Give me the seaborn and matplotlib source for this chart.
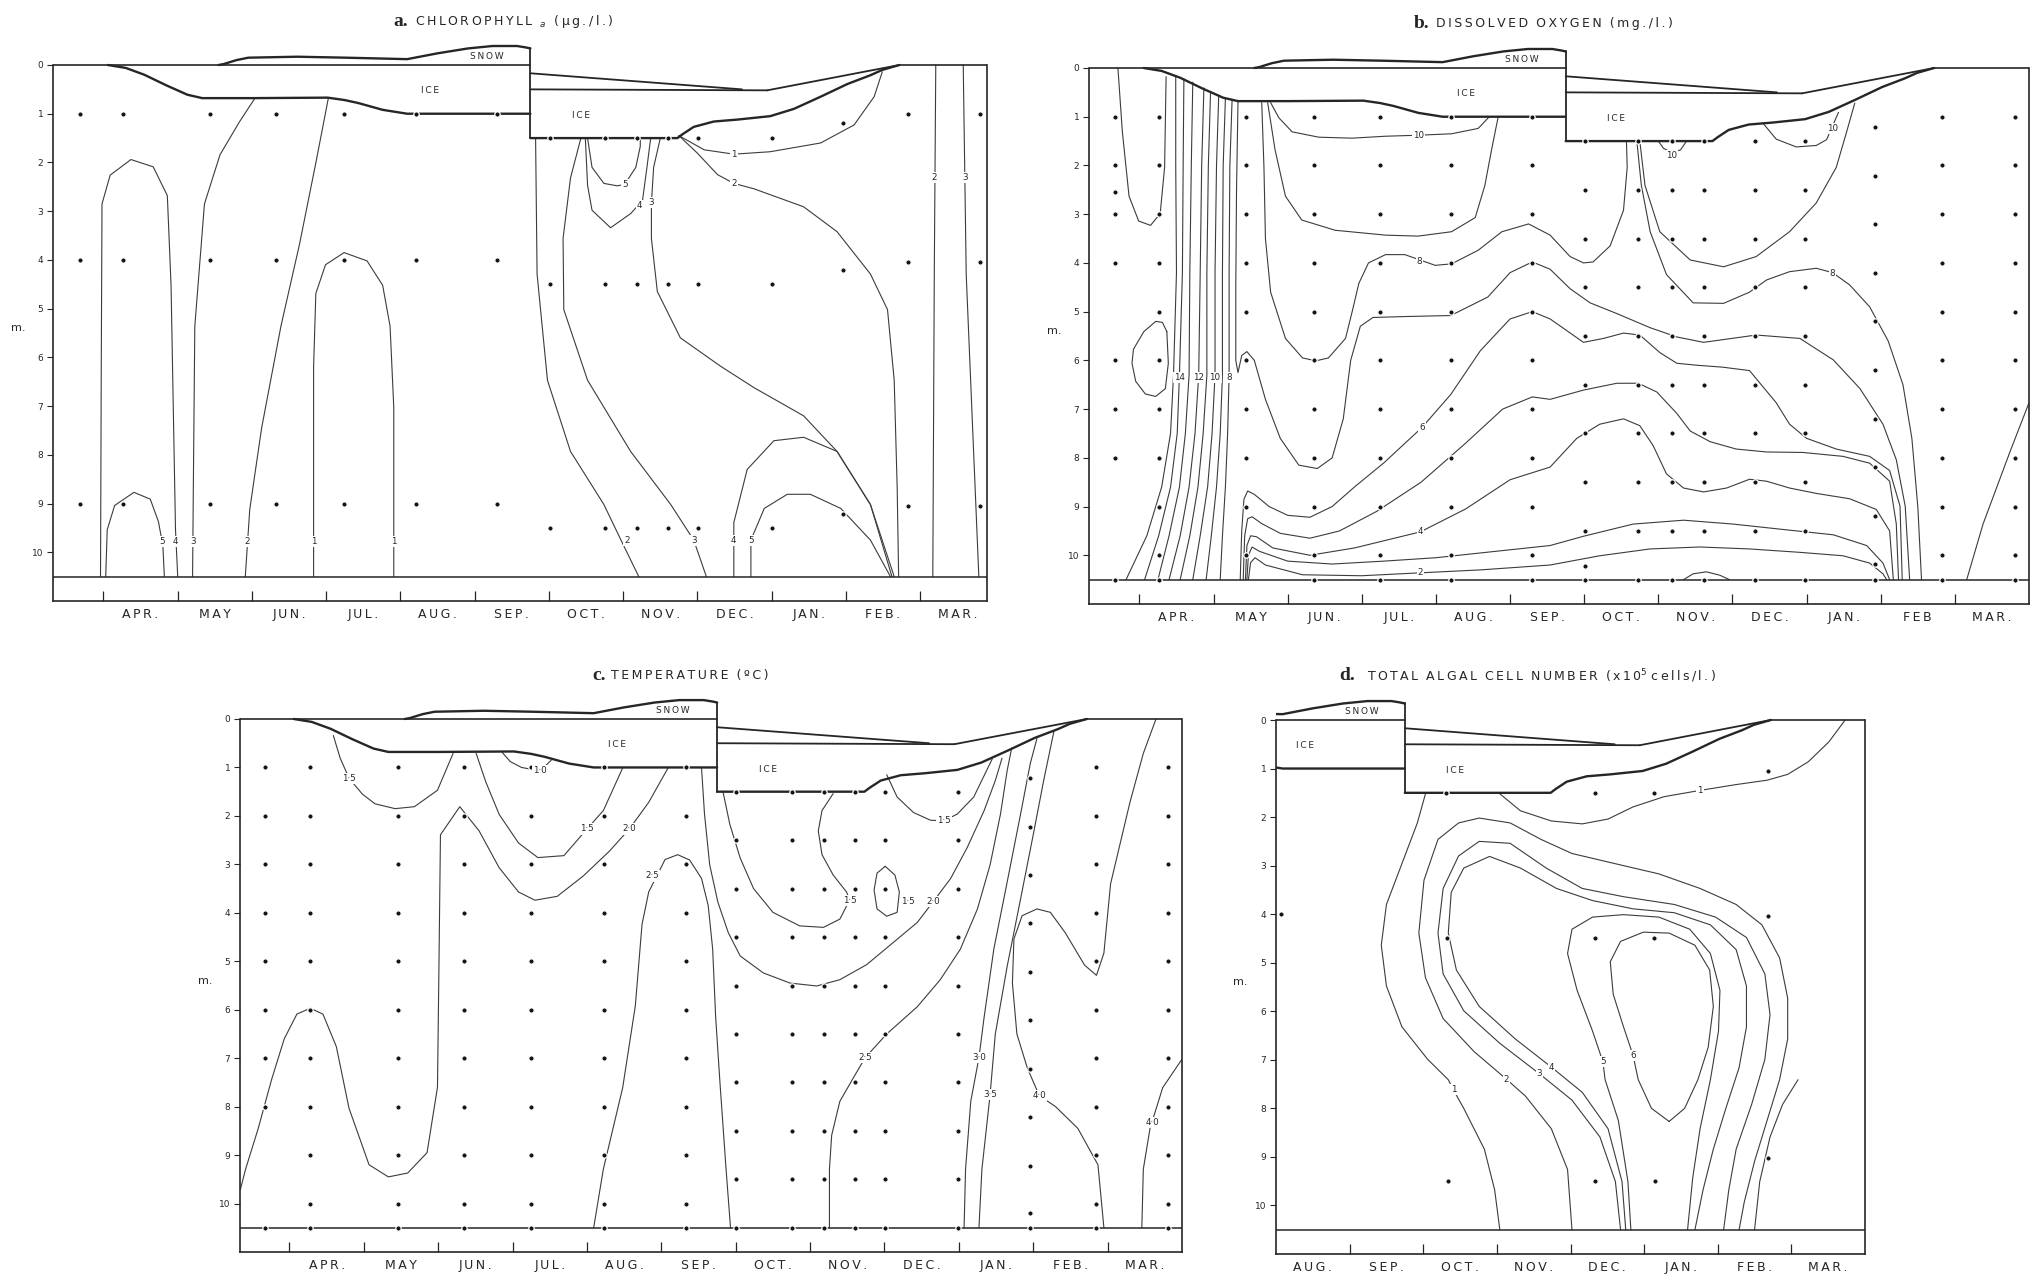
import matplotlib
matplotlib.use("Agg")
import matplotlib.pyplot as plt
import seaborn as sns

sns.set_theme(style="white")
plt.rcParams["font.family"] = ["DejaVu Sans"]
plt.rcParams["mathtext.fontset"] = "dejavusans"

INK = "#262626"
LINE = "#3c3c3c"
W, H = 2031, 1278
SP = "\u2009"  # thin space used as letter spacing

# ---------------- shared ice / snow outlines (x: months from 1 April, y: depth m) -------------
ICE1_BOTTOM_X = [0.06, 0.30, 0.55, 0.85, 1.13, 1.33, 2.0, 3.02, 3.25, 3.43, 3.76, 4.09, 5.75]
ICE1_BOTTOM_D = [0.0, 0.06, 0.20, 0.42, 0.61, 0.68, 0.68, 0.67, 0.72, 0.78, 0.92, 1.0, 1.0]
SNOW1_X = [1.55, 1.62, 1.79, 1.95, 2.61, 3.27, 4.09, 4.50, 4.91, 5.24, 5.57, 5.69, 5.75]
SNOW1_D = [0.0, -0.02, -0.10, -0.15, -0.17, -0.15, -0.12, -0.24, -0.34, -0.39, -0.39, -0.36, -0.34]
ICE_STEP_X = [5.75, 5.75]
ICE_STEP_D = [-0.34, 1.5]
ICE2_UPPER_X = [5.75, 8.60]
ICE2_UPPER_D = [0.17, 0.50]
ICE2_MID_X = [5.75, 8.94]
ICE2_MID_D = [0.50, 0.52]
ICE2_TOP_X = [8.94, 10.72]
ICE2_TOP_D = [0.52, 0.0]
ICE2_BOTTOM_X = [5.75, 7.73, 7.80, 7.95, 8.22, 8.54, 8.98, 9.30, 9.66, 10.02, 10.33, 10.49, 10.72]
ICE2_BOTTOM_D = [1.5, 1.5, 1.42, 1.27, 1.16, 1.12, 1.05, 0.90, 0.65, 0.39, 0.21, 0.10, 0.0]
ICE_LABELS = [("ICE", 4.40, 0.52), ("ICE", 6.43, 1.04), ("SNOW", 5.16, -0.18)]

MONTHS = ["APR.", "MAY", "JUN.", "JUL.", "AUG.", "SEP.", "OCT.", "NOV.", "DEC.", "JAN.", "FEB.", "MAR."]
MONTHS_B = ["APR.", "MAY", "JUN.", "JUL.", "AUG.", "SEP.", "OCT.", "NOV.", "DEC.", "JAN.", "FEB", "MAR."]
MONTHS_D = ["AUG.", "SEP.", "OCT.", "NOV.", "DEC.", "JAN.", "FEB.", "MAR."]
MONTH_TICKS = [0, 1, 2, 3, 4, 5, 6, 7, 8, 9, 10, 11]
MONTH_CENTRES = [0.5, 1.5, 2.5, 3.5, 4.5, 5.5, 6.5, 7.5, 8.5, 9.5, 10.5, 11.5]
MONTH_TICKS_D = [5, 6, 7, 8, 9, 10, 11]
MONTH_CENTRES_D = [4.5, 5.5, 6.5, 7.5, 8.5, 9.5, 10.5, 11.5]
DEPTH_TICKS = [0, 1, 2, 3, 4, 5, 6, 7, 8, 9, 10]

# ---------------- a. chlorophyll a ----------------
A_LINES = {
    "5_apr": ([0.03, 0.05, 0.15, 0.41, 0.63, 0.74, 0.80, 0.82], [10.5, 9.54, 9.04, 8.77, 8.91, 9.37, 9.87, 10.5]),
    "4_apr": ([-0.04, -0.03, -0.02, 0.09, 0.37, 0.67, 0.86, 0.91, 0.94, 0.97, 1.0],
              [10.5, 6.19, 2.85, 2.26, 1.94, 2.09, 2.68, 4.52, 7.03, 9.54, 10.5]),
    "3_apr": ([1.20, 1.21, 1.23, 1.36, 1.57, 1.83, 2.04], [10.5, 8.70, 5.36, 2.85, 1.84, 1.17, 0.68]),
    "2_jun": ([3.03, 2.86, 2.64, 2.39, 2.13, 1.97, 1.91], [0.67, 2.01, 3.68, 5.36, 7.45, 9.12, 10.5]),
    "1_jul": ([2.83, 2.83, 2.86, 2.99, 3.24, 3.55, 3.76, 3.86, 3.91, 3.91],
              [10.5, 6.19, 4.69, 4.10, 3.85, 4.02, 4.52, 5.36, 7.03, 10.5]),
    "2_oct": ([5.82, 5.84, 5.98, 6.29, 6.74, 6.97, 7.21], [1.5, 4.29, 6.47, 7.93, 9.02, 9.75, 10.5]),
    "3_oct": ([6.43, 6.29, 6.19, 6.20, 6.52, 7.10, 7.64, 7.95, 8.12],
              [1.5, 2.32, 3.56, 5.02, 6.47, 7.93, 9.02, 9.75, 10.5]),
    "4_oct": ([6.49, 6.52, 6.58, 6.83, 7.10, 7.26, 7.32, 7.37], [1.5, 2.47, 2.98, 3.34, 3.05, 2.78, 2.10, 1.5]),
    "5_oct": ([6.52, 6.58, 6.74, 6.92, 7.02, 7.17, 7.23, 7.23], [1.5, 2.10, 2.43, 2.48, 2.45, 2.10, 1.67, 1.5]),
    "3_nov": ([7.50, 7.41, 7.38, 7.38, 7.46, 7.77, 8.31, 8.76, 9.43, 9.88, 10.33, 10.65],
              [1.5, 2.10, 2.83, 3.56, 4.65, 5.60, 6.18, 6.62, 7.20, 7.93, 9.02, 10.5]),
    "2_nov": ([7.75, 8.00, 8.27, 8.49, 8.76, 9.43, 9.88, 10.33, 10.56, 10.65, 10.69, 10.71],
              [1.45, 1.81, 2.25, 2.43, 2.54, 2.91, 3.42, 4.29, 5.02, 6.47, 8.66, 10.5]),
    "1_nov": ([7.75, 8.09, 8.49, 8.98, 9.66, 10.11, 10.38, 10.49], [1.45, 1.74, 1.83, 1.78, 1.60, 1.23, 0.65, 0.14]),
    "4_jan": ([8.49, 8.49, 8.67, 9.03, 9.43, 9.88, 10.33, 10.62], [10.5, 9.39, 8.30, 7.71, 7.64, 7.93, 9.02, 10.5]),
    "5_jan": ([8.72, 8.72, 8.90, 9.21, 9.52, 9.93, 10.33, 10.60], [10.5, 9.75, 9.10, 8.81, 8.81, 9.10, 9.75, 10.5]),
    "2_mar": ([11.21, 11.19, 11.17], [0.0, 4.3, 10.5]),
    "3_mar": ([11.58, 11.62, 11.79], [0.0, 4.3, 10.5]),
}
A_LABELS = [("5", 0.79, 9.77), ("4", 0.97, 9.77), ("3", 1.21, 9.77), ("2", 1.94, 9.77), ("1", 2.83, 9.77),
            ("1", 3.91, 9.77), ("2", 7.05, 9.75), ("3", 7.95, 9.75), ("4", 8.49, 9.75), ("5", 8.72, 9.75),
            ("5", 7.02, 2.45), ("4", 7.22, 2.88), ("3", 7.38, 2.83), ("2", 8.49, 2.43), ("1", 8.49, 1.83),
            ("2", 11.19, 2.3), ("3", 11.60, 2.3)]
A_DOT_COLS = [-0.32, 0.26, 1.44, 2.33, 3.24, 4.21, 5.30, 6.01, 6.75, 7.18, 7.61, 8.01, 9.0, 9.96, 10.84, 11.80]
A_DOT_DEPTHS = [[1, 4, 9]] * 7 + [[1.5, 4.5, 9.5]] * 6 + [[1.19, 4.2, 9.22], [1, 4.05, 9.05], [1, 4.05, 9.05]]

# ---------------- b. dissolved oxygen ----------------
B_LINES = {
    "u_left": ([-0.29, -0.23, -0.14, -0.01, 0.15, 0.28, 0.34, 0.36], [0.0, 1.31, 2.63, 3.14, 3.23, 2.99, 2.04, 0.18]),
    "oval": ([0.37, 0.31, 0.22, 0.06, -0.08, -0.10, -0.05, 0.08, 0.22, 0.35, 0.39, 0.37],
             [5.41, 5.22, 5.20, 5.41, 5.77, 6.06, 6.43, 6.69, 6.74, 6.58, 6.06, 5.41]),
    "10_jun": ([1.77, 1.88, 2.06, 2.42, 2.87, 3.32, 3.76, 4.21, 4.57, 4.72],
               [0.71, 1.02, 1.31, 1.42, 1.44, 1.40, 1.38, 1.35, 1.24, 1.0]),
    "9_jun": ([1.73, 1.83, 1.97, 2.19, 2.64, 3.32, 3.76, 4.21, 4.53, 4.66, 4.75, 4.84],
              [0.71, 1.68, 2.63, 3.12, 3.33, 3.43, 3.45, 3.36, 3.07, 2.41, 1.68, 1.0]),
    "8_jun": ([1.65, 1.68, 1.70, 1.77, 1.97, 2.20, 2.38, 2.55, 2.78, 2.87, 2.96, 3.09, 3.32, 3.58, 3.99, 4.21,
               4.57, 4.89, 5.25, 5.54, 5.81, 5.99, 6.12, 6.35, 6.53, 6.58, 6.57],
              [0.71, 2.04, 3.5, 4.6, 5.55, 5.95, 6.01, 5.95, 5.55, 5.0, 4.42, 4.0, 3.83, 3.83, 4.05, 4.02,
               3.74, 3.36, 3.20, 3.43, 3.87, 4.0, 3.98, 3.65, 2.92, 2.04, 1.51]),
    "7": ([1.33, 1.31, 1.30, 1.30, 1.33, 1.38, 1.45, 1.55, 1.70, 1.90, 2.15, 2.40, 2.60, 2.75, 2.85, 2.98,
           3.15, 3.6, 4.2, 4.7, 5.0, 5.3, 5.54, 5.81, 6.08, 6.44, 6.89, 7.25, 7.61, 8.32, 8.91, 9.36, 9.72,
           10.03, 10.21, 10.33, 10.39],
          [0.67, 2.5, 4.5, 6.0, 6.25, 5.9, 5.82, 6.0, 6.8, 7.6, 8.15, 8.22, 8.0, 7.2, 6.0, 5.3, 5.12, 5.1, 5.08,
           4.7, 4.2, 3.98, 4.13, 4.53, 4.82, 5.04, 5.33, 5.52, 5.63, 5.48, 5.55, 5.99, 6.58, 7.31, 8.04, 8.99,
           10.5]),
    "6": ([1.36, 1.38, 1.41, 1.46, 1.55, 1.75, 2.0, 2.3, 2.6, 2.9, 3.3, 3.81, 4.2, 4.6, 5.0, 5.3, 5.54, 5.99,
           6.26, 6.53, 6.75, 7.02, 7.25, 7.52, 7.87, 8.23, 8.59, 8.77, 9.0, 9.40, 9.85, 10.12, 10.26, 10.29],
          [10.5, 9.5, 8.85, 8.68, 8.75, 9.0, 9.18, 9.22, 9.0, 8.6, 8.1, 7.38, 6.7, 5.8, 5.15, 5.0, 5.15, 5.63,
           5.55, 5.44, 5.48, 5.84, 6.06, 6.10, 6.14, 6.21, 6.87, 7.31, 7.60, 7.82, 7.97, 8.26, 8.99, 10.5]),
    "5": ([1.40, 1.42, 1.46, 1.52, 1.65, 1.9, 2.3, 2.7, 3.2, 3.8, 4.4, 4.9, 5.3, 5.54, 5.99, 6.44, 6.73, 6.98,
           7.25, 7.43, 7.70, 8.05, 8.46, 8.95, 9.49, 9.85, 10.12, 10.21, 10.24],
          [10.5, 9.6, 9.25, 9.21, 9.35, 9.55, 9.65, 9.5, 9.1, 8.5, 7.7, 7.0, 6.75, 6.80, 6.61, 6.47, 6.47, 6.65,
           7.09, 7.45, 7.67, 7.82, 7.88, 7.89, 7.97, 8.11, 8.48, 9.36, 10.5]),
    "4": ([1.43, 1.45, 1.50, 1.58, 1.8, 2.3, 2.9, 3.79, 4.4, 5.0, 5.54, 5.90, 6.21, 6.53, 6.75, 6.93, 7.11,
           7.34, 7.61, 7.92, 8.23, 8.46, 8.77, 9.13, 9.58, 9.94, 10.12, 10.17],
          [10.5, 9.8, 9.6, 9.62, 9.85, 10.0, 9.85, 9.52, 9.05, 8.45, 8.19, 7.60, 7.31, 7.20, 7.34, 7.75, 8.33,
           8.62, 8.70, 8.62, 8.44, 8.48, 8.62, 8.73, 8.84, 9.06, 9.50, 10.5]),
    "3": ([1.45, 1.47, 1.52, 1.62, 2.0, 2.6, 3.3, 4.0, 4.8, 5.54, 5.99, 6.66, 7.34, 8.01, 8.68, 9.36, 9.81,
           10.03, 10.12],
          [10.5, 10.0, 9.83, 9.92, 10.12, 10.18, 10.12, 10.05, 9.92, 9.80, 9.61, 9.36, 9.28, 9.36, 9.47, 9.58,
           9.80, 10.16, 10.5]),
    "2": ([1.47, 1.50, 1.56, 1.7, 2.2, 3.0, 3.79, 4.6, 5.54, 6.21, 6.89, 7.56, 8.23, 8.91, 9.49, 9.85, 10.03,
           10.08],
          [10.5, 10.15, 10.05, 10.2, 10.4, 10.42, 10.36, 10.3, 10.2, 10.01, 9.87, 9.83, 9.87, 9.94, 10.01, 10.16,
           10.38, 10.5]),
    "8_oct": ([6.71, 6.77, 6.89, 7.11, 7.47, 7.88, 8.23, 8.46, 8.77, 9.13, 9.35, 9.58, 9.85, 10.1, 10.3, 10.42,
               10.5, 10.55],
              [1.5, 2.4, 3.36, 4.24, 4.82, 4.83, 4.6, 4.35, 4.18, 4.11, 4.2, 4.45, 4.9, 5.6, 6.5, 7.6, 9.0, 10.5]),
    "9_oct": ([6.75, 6.82, 7.02, 7.43, 7.88, 8.32, 8.77, 9.13, 9.40, 9.54, 9.65],
              [1.5, 2.41, 3.36, 3.94, 4.08, 3.87, 3.36, 2.77, 2.04, 1.31, 0.72]),
    "10_oct": ([7.0, 7.07, 7.18, 7.30, 7.38], [1.5, 1.65, 1.73, 1.68, 1.5]),
    "10_dec": ([8.41, 8.59, 8.86, 9.13, 9.27, 9.43], [1.13, 1.46, 1.62, 1.59, 1.47, 0.91]),
    "mar": ([11.16, 11.38, 11.74, 12.0], [10.5, 9.36, 7.89, 6.87]),
    "nov_bed": ([7.34, 7.47, 7.65, 7.83, 7.96], [10.5, 10.38, 10.34, 10.41, 10.5]),
}
B_BUNDLE_TOP_X = [0.49, 0.60, 0.72, 0.87, 0.96, 1.07, 1.16, 1.25]
B_BUNDLE_TOP_D = [0.17, 0.22, 0.29, 0.41, 0.48, 0.56, 0.62, 0.66]
B_BUNDLE_DEPTHS = [2.0, 4.2, 6.3, 7.5, 8.6, 9.6, 10.5]
B_BUNDLE_X = [
    [0.49, 0.50, 0.46, 0.42, 0.30, 0.10, -0.18],
    [0.59, 0.58, 0.54, 0.51, 0.42, 0.26, 0.07],
    [0.70, 0.68, 0.67, 0.62, 0.54, 0.40, 0.25],
    [0.84, 0.82, 0.80, 0.75, 0.67, 0.55, 0.40],
    [0.93, 0.91, 0.91, 0.86, 0.79, 0.68, 0.55],
    [1.04, 1.02, 1.02, 0.98, 0.92, 0.82, 0.72],
    [1.13, 1.12, 1.12, 1.09, 1.04, 0.97, 0.90],
    [1.22, 1.21, 1.21, 1.19, 1.16, 1.12, 1.09],
]
B_LABELS = [("14", 0.54, 6.35), ("12", 0.80, 6.35), ("10", 1.02, 6.35), ("8", 1.21, 6.35),
            ("10", 3.76, 1.38), ("8", 3.78, 3.98), ("6", 3.81, 7.38), ("4", 3.79, 9.52), ("2", 3.79, 10.36),
            ("10", 7.18, 1.80), ("10", 9.35, 1.25), ("8", 9.35, 4.22)]
B_FIRST = [1, 2, 3, 4, 5, 6, 7, 8, 9, 10, 10.5]
B_SECOND = [1.5, 2.5, 3.5, 4.5, 5.5, 6.5, 7.5, 8.5, 9.5, 10.5]
B_DOT_COLS = [-0.33, 0.27, 1.44, 2.35, 3.25, 4.20, 5.30, 6.01, 6.73, 7.18, 7.61, 8.30, 8.98, 9.92, 10.83, 11.81]
B_DOT_DEPTHS = ([[1, 2, 2.55, 3, 4, 6, 7, 8, 10.5], B_FIRST, [1, 2, 3, 4, 5, 6, 7, 8, 9, 10]] + [B_FIRST] * 4
                + [[1.5, 2.5, 3.5, 4.5, 5.5, 6.5, 7.5, 8.5, 9.5, 10.23, 10.5]] + [B_SECOND] * 5
                + [[1.22, 2.21, 3.20, 4.20, 5.20, 6.20, 7.21, 8.19, 9.20, 10.18, 10.5], B_FIRST, B_FIRST])

# ---------------- c. temperature ----------------
C_LINES = {
    "15_apr": ([0.59, 0.68, 0.80, 0.98, 1.15, 1.42, 1.68, 1.99, 2.20], [0.34, 0.80, 1.22, 1.55, 1.75, 1.85, 1.81, 1.47, 0.71]),
    "10_jul": ([2.86, 2.97, 3.12, 3.37, 3.52], [0.69, 0.88, 1.0, 1.07, 0.85]),
    "15_jul": ([2.51, 2.64, 2.82, 3.08, 3.34, 3.69, 4.0, 4.22, 4.48], [0.71, 1.30, 1.97, 2.56, 2.86, 2.82, 2.27, 1.89, 1.01]),
    "20_apr": ([-0.66, -0.59, -0.42, -0.24, -0.07, 0.10, 0.28, 0.45, 0.63, 0.80, 1.07, 1.33, 1.59, 1.85, 1.99,
                2.01, 2.03, 2.29, 2.55, 2.82, 3.08, 3.30, 3.60, 3.95, 4.30, 4.57, 4.83, 5.09],
               [9.71, 9.29, 8.45, 7.44, 6.6, 6.09, 5.97, 6.09, 6.76, 8.03, 9.2, 9.45, 9.37, 8.95, 7.6, 5.08, 2.39,
                1.81, 2.31, 3.07, 3.57, 3.74, 3.66, 3.24, 2.73, 2.27, 1.72, 1.01]),
    "25_aug": ([4.09, 4.22, 4.48, 4.65, 4.74, 4.83, 5.05, 5.22, 5.38, 5.54, 5.63, 5.69, 5.73, 5.79, 5.87, 5.93],
               [10.5, 9.29, 7.61, 5.92, 4.24, 3.57, 2.90, 2.80, 2.91, 3.29, 3.85, 4.75, 6.15, 7.55, 9.29, 10.5]),
    "20_sep": ([5.54, 5.58, 5.65, 5.76, 5.90, 6.06, 6.37, 6.73, 7.09, 7.40, 7.76, 8.12, 8.44, 8.66, 8.89, 9.11,
                9.34, 9.49, 9.58],
               [1.0, 1.96, 3.01, 3.78, 4.41, 4.89, 5.24, 5.45, 5.51, 5.38, 5.07, 4.61, 4.20, 3.76, 3.29, 2.66,
                1.89, 1.27, 0.81]),
    "15_oct": ([5.83, 5.92, 6.06, 6.24, 6.50, 6.86, 7.18, 7.40, 7.53, 7.49, 7.31, 7.16, 7.11, 7.16, 7.31],
               [1.51, 2.17, 2.87, 3.50, 3.99, 4.27, 4.30, 4.13, 3.74, 3.57, 3.22, 2.80, 2.31, 1.89, 1.54]),
    "15_oval": ([8.01, 7.90, 7.86, 7.90, 8.03, 8.17, 8.20, 8.14, 8.01], [3.04, 3.18, 3.53, 3.92, 4.07, 3.99, 3.57, 3.22, 3.04]),
    "15_dec": ([8.03, 8.17, 8.39, 8.62, 8.80, 8.98, 9.20, 9.45], [1.15, 1.61, 1.93, 2.09, 2.10, 1.96, 1.61, 0.82]),
    "25_nov": ([7.26, 7.26, 7.29, 7.40, 7.58, 7.74, 8.03, 8.44, 8.75, 9.02, 9.25, 9.42, 9.56, 9.65, 9.71],
               [10.5, 9.29, 8.59, 7.89, 7.41, 6.99, 6.50, 5.94, 5.38, 4.75, 3.92, 3.01, 1.96, 1.06, 0.60]),
    "30_jan": ([9.07, 9.09, 9.16, 9.27, 9.34, 9.47, 9.65, 9.83, 9.96, 10.05], [10.5, 9.29, 7.89, 6.99, 6.15, 4.75, 3.36, 1.96, 0.92, 0.40]),
    "35_jan": ([9.27, 9.31, 9.42, 9.49, 9.65, 9.83, 10.01, 10.14, 10.28], [10.5, 9.29, 7.75, 6.50, 5.10, 3.71, 2.31, 1.27, 0.24]),
    "40_feb": ([10.95, 10.87, 10.60, 10.30, 10.08, 9.92, 9.78, 9.72, 9.74, 9.85, 10.05, 10.23, 10.43, 10.69,
                10.85, 10.95, 11.04, 11.30, 11.48, 11.65],
               [10.5, 9.20, 8.45, 8.0, 7.77, 7.20, 6.50, 5.45, 4.54, 4.06, 3.92, 3.99, 4.41, 5.08, 5.29, 4.83,
                3.40, 1.72, 0.71, 0.0]),
    "40_mar": ([11.46, 11.48, 11.57, 11.74, 12.0], [10.5, 9.29, 8.45, 7.61, 7.02]),
}
C_LABELS = [("1·5", 0.80, 1.22), ("1·0", 3.37, 1.07), ("1·5", 4.0, 2.27), ("2·0", 4.57, 2.27), ("2·5", 4.88, 3.24),
            ("1·5", 7.53, 3.74), ("1·5", 8.32, 3.76), ("2·0", 8.66, 3.76), ("1·5", 8.80, 2.10), ("2·5", 7.74, 6.99),
            ("3·0", 9.27, 6.99), ("3·5", 9.42, 7.75), ("4·0", 10.08, 7.77), ("4·0", 11.60, 8.32)]
C_FIRST = [1, 2, 3, 4, 5, 6, 7, 8, 9, 10, 10.5]
C_SECOND = [1.5, 2.5, 3.5, 4.5, 5.5, 6.5, 7.5, 8.5, 9.5, 10.5]
C_DOT_COLS = [-0.33, 0.28, 1.46, 2.35, 3.25, 4.23, 5.33, 6.01, 6.75, 7.19, 7.61, 8.01, 8.99, 9.95, 10.85, 11.81]
C_DOT_DEPTHS = ([[1, 2, 3, 4, 5, 6, 7, 8, 10.5]] + [C_FIRST] * 6 + [C_SECOND] * 6
                + [[1.22, 2.22, 3.22, 4.2, 5.22, 6.22, 7.22, 8.22, 9.22, 10.2, 10.5], C_FIRST, C_FIRST])

# ---------------- d. total algal cell number ----------------
D_LINES = {
    "1_oct": ([6.03, 5.92, 5.71, 5.50, 5.43, 5.50, 5.71, 6.06, 6.34, 6.41, 6.55, 6.83, 6.97, 7.04],
              [1.52, 2.12, 2.96, 3.80, 4.64, 5.48, 6.32, 6.99, 7.41, 7.62, 8.0, 8.84, 9.68, 10.5]),
    "1_top": ([11.73, 11.51, 11.23, 10.95, 10.67, 10.25, 9.76, 9.27, 8.85, 8.51, 8.16, 7.74, 7.32, 7.04],
              [0.0, 0.45, 0.86, 1.12, 1.24, 1.33, 1.45, 1.58, 1.79, 2.04, 2.14, 2.08, 1.87, 1.52]),
    "1_feb": ([10.50, 10.57, 10.71, 10.88, 11.09], [10.5, 9.51, 8.59, 7.92, 7.41]),
    "2": ([8.02, 7.96, 7.74, 7.39, 7.13, 6.69, 6.27, 6.03, 5.94, 6.01, 6.20, 6.48, 6.76, 7.18, 7.60, 8.02, 8.58,
           9.20, 9.76, 10.25, 10.60, 10.84, 10.95, 10.95, 10.84, 10.67, 10.50, 10.36, 10.29],
          [10.5, 9.26, 8.42, 7.75, 7.40, 6.83, 6.15, 5.31, 4.39, 3.30, 2.46, 2.12, 2.02, 2.12, 2.46, 2.75, 2.95,
           3.17, 3.47, 3.80, 4.22, 4.90, 5.73, 6.57, 7.41, 8.25, 9.09, 9.93, 10.5]),
    "3": ([8.68, 8.61, 8.40, 8.02, 7.58, 7.04, 6.55, 6.27, 6.20, 6.27, 6.48, 6.76, 7.18, 7.67, 8.16, 8.72, 9.41,
           9.97, 10.39, 10.64, 10.71, 10.64, 10.46, 10.25, 10.15, 10.08],
          [10.5, 9.51, 8.59, 7.83, 7.29, 6.66, 5.99, 5.23, 4.39, 3.47, 2.80, 2.50, 2.54, 3.05, 3.47, 3.64, 3.80,
           4.06, 4.48, 5.23, 6.07, 6.99, 7.92, 8.84, 9.68, 10.5]),
    "4": ([8.75, 8.70, 8.51, 8.16, 7.74, 7.25, 6.76, 6.45, 6.34, 6.38, 6.55, 6.90, 7.32, 7.81, 8.30, 8.85, 9.41,
           9.90, 10.25, 10.39, 10.39, 10.29, 10.11, 9.94, 9.80, 9.69],
          [10.5, 9.51, 8.42, 7.67, 7.15, 6.57, 5.90, 5.15, 4.39, 3.55, 3.05, 2.81, 3.05, 3.47, 3.72, 3.89, 3.97,
           4.22, 4.73, 5.48, 6.32, 7.16, 8.00, 8.84, 9.68, 10.5]),
    "5": ([8.82, 8.78, 8.65, 8.47, 8.44, 8.30, 8.09, 7.96, 8.02, 8.30, 8.72, 9.20, 9.62, 9.90, 10.03, 10.01,
           9.90, 9.76, 9.66, 9.59],
          [10.5, 9.51, 8.25, 7.41, 7.04, 6.41, 5.57, 4.81, 4.31, 4.06, 4.01, 4.06, 4.31, 4.81, 5.57, 6.41, 7.41,
           8.42, 9.43, 10.5]),
    "6": ([9.34, 9.10, 8.92, 8.85, 8.72, 8.58, 8.54, 8.68, 8.99, 9.34, 9.69, 9.89, 9.94, 9.87, 9.73, 9.55, 9.34],
          [8.27, 8.00, 7.41, 6.91, 6.32, 5.65, 4.98, 4.56, 4.37, 4.39, 4.64, 5.15, 5.90, 6.74, 7.41, 8.00, 8.27]),
}
D_LABELS = [("1", 6.41, 7.62), ("2", 7.13, 7.40), ("3", 7.58, 7.29), ("4", 7.74, 7.15), ("5", 8.44, 7.04),
            ("6", 8.85, 6.91), ("1", 9.76, 1.45)]
D_DOT_X = [6.31, 8.33, 9.13, 10.68, 4.07, 6.32, 8.33, 9.13, 10.68, 6.34, 8.33, 9.15, 10.68]
D_DOT_D = [1.51, 1.51, 1.51, 1.05, 4.0, 4.5, 4.5, 4.5, 4.03, 9.5, 9.5, 9.5, 9.03]


def spaced(text):
    return SP.join(text)


# ---------------- drawing helpers ----------------
def px_axes(fig, x0, x1, y0, y11, top_depth=-0.8):
    unit = (y11 - y0) / 11.0
    ytop = y0 + top_depth * unit
    return fig.add_axes([x0 / W, 1 - y11 / H, (x1 - x0) / W, (y11 - ytop) / H])


def draw_line(ax, xs, ys, lw=0.8, color=LINE, z=2):
    sns.lineplot(x=xs, y=ys, sort=False, estimator=None, ax=ax, color=color, linewidth=lw,
                 legend=False, zorder=z)


def frame(ax, xl, xr, ticks, centres, names, m_offset=-0.037):
    ax.set_xlim(xl, xr)
    ax.set_ylim(11, -0.8)
    ax.spines["top"].set_visible(False)
    ax.spines["left"].set_bounds(0, 11)
    ax.spines["right"].set_bounds(0, 11)
    for s in ("left", "right", "bottom"):
        ax.spines[s].set_linewidth(1.2)
        ax.spines[s].set_color(INK)
    ax.set_yticks(DEPTH_TICKS)
    ax.set_yticklabels([str(t) for t in DEPTH_TICKS], fontsize=6.5, color=INK)
    ax.tick_params(axis="y", direction="out", length=4, width=0.8, pad=3, left=True, right=False, colors=INK)
    ax.set_xticks(ticks)
    ax.set_xticklabels([])
    ax.set_xticks(centres, minor=True)
    ax.set_xticklabels([spaced(n) for n in names], minor=True, fontsize=9, color=INK)
    ax.tick_params(axis="x", which="major", direction="in", length=7, width=0.9, bottom=True, colors=INK)
    ax.tick_params(axis="x", which="minor", length=0, pad=5, bottom=True)
    ax.axhline(10.5, color=INK, lw=1.1, zorder=3)
    ax.set_xlabel("")
    ax.set_ylabel("")
    ax.grid(False)
    ax.annotate("m.", xy=(m_offset, 5.4), xycoords=("axes fraction", "data"), ha="center", va="center",
                fontsize=8, color=INK)


def ice(ax, xl, xr):
    thick = 1.7
    draw_line(ax, [xl, ICE2_BOTTOM_X[0]], [0, 0], lw=1.2, color=INK, z=4)
    draw_line(ax, [ICE2_TOP_X[-1], xr], [0, 0], lw=1.2, color=INK, z=4)
    draw_line(ax, ICE1_BOTTOM_X, ICE1_BOTTOM_D, lw=thick, color=INK, z=4)
    draw_line(ax, SNOW1_X, SNOW1_D, lw=thick, color=INK, z=4)
    draw_line(ax, ICE_STEP_X, ICE_STEP_D, lw=1.3, color=INK, z=4)
    draw_line(ax, ICE2_UPPER_X, ICE2_UPPER_D, lw=1.3, color=INK, z=4)
    draw_line(ax, ICE2_MID_X, ICE2_MID_D, lw=1.3, color=INK, z=4)
    draw_line(ax, ICE2_TOP_X, ICE2_TOP_D, lw=1.3, color=INK, z=4)
    draw_line(ax, ICE2_BOTTOM_X, ICE2_BOTTOM_D, lw=thick, color=INK, z=4)
    for t, x, d in ICE_LABELS:
        if xl < x < xr:
            ax.text(x, d, spaced(t), fontsize=6.5, ha="center", va="center", color=INK, zorder=6)


def labels(ax, items):
    for t, x, d in items:
        ax.text(x, d, t, fontsize=6.3, ha="center", va="center", color=INK, zorder=7,
                bbox=dict(boxstyle="square,pad=0.12", fc="white", ec="none"))


def dots(ax, xs, ys):
    sns.scatterplot(x=xs, y=ys, s=15, color="#141414", edgecolor="white", linewidth=0.9, ax=ax,
                    legend=False, zorder=6)


def column_dots(cols, depths):
    xs, ys = [], []
    for c, ds in zip(cols, depths):
        xs += [c] * len(ds)
        ys += list(ds)
    return xs, ys


fig = plt.figure(figsize=(W / 100, H / 100), dpi=100)
fig.patch.set_facecolor("white")

# panel a
axa = px_axes(fig, 53, 987, 65, 601)
for xs, ds in A_LINES.values():
    draw_line(axa, xs, ds)
ice(axa, -0.68, 11.9)
labels(axa, A_LABELS)
dots(axa, *column_dots(A_DOT_COLS, A_DOT_DEPTHS))
frame(axa, -0.68, 11.9, MONTH_TICKS, MONTH_CENTRES, MONTHS)

# panel b
axb = px_axes(fig, 1089, 2029, 68, 604)
for xs, ds in B_LINES.values():
    draw_line(axb, xs, ds)
for tx, td, row in zip(B_BUNDLE_TOP_X, B_BUNDLE_TOP_D, B_BUNDLE_X):
    draw_line(axb, [tx] + row, [td] + B_BUNDLE_DEPTHS)
ice(axb, -0.68, 12.0)
labels(axb, B_LABELS)
dots(axb, *column_dots(B_DOT_COLS, B_DOT_DEPTHS))
frame(axb, -0.68, 12.0, MONTH_TICKS, MONTH_CENTRES, MONTHS_B)

# panel c
axc = px_axes(fig, 240, 1182, 719, 1252)
for xs, ds in C_LINES.values():
    draw_line(axc, xs, ds)
ice(axc, -0.665, 12.0)
labels(axc, C_LABELS)
dots(axc, *column_dots(C_DOT_COLS, C_DOT_DEPTHS))
frame(axc, -0.665, 12.0, MONTH_TICKS, MONTH_CENTRES, MONTHS)

# panel d
axd = px_axes(fig, 1276, 1865, 720, 1254)
for xs, ds in D_LINES.values():
    draw_line(axd, xs, ds)
ice(axd, 4.0, 12.0)
labels(axd, D_LABELS)
dots(axd, D_DOT_X, D_DOT_D)
frame(axd, 4.0, 12.0, MONTH_TICKS_D, MONTH_CENTRES_D, MONTHS_D, m_offset=-0.06)

# titles: bold letter + letter-spaced caption
TITLES = [("a.", spaced("CHLOROPHYLL") + "  $_{a}$  " + spaced("(µg./l.)"), 408, 415, 22),
          ("b.", spaced("DISSOLVED") + "  " + spaced("OXYGEN") + "  " + spaced("(mg./l.)"), 1429, 1436, 24),
          ("c.", spaced("TEMPERATURE") + "  " + spaced("(ºC)"), 606, 611, 675),
          ("d.", spaced("TOTAL") + "  " + spaced("ALGAL") + "  " + spaced("CELL") + "  " + spaced("NUMBER")
           + "  " + spaced("(x10") + "$^{5}$ " + spaced("cells/l.)"), 1355, 1367, 676)]
for letter, rest, xl_px, xr_px, y_px in TITLES:
    fig.text(xl_px / W, 1 - y_px / H, letter, ha="right", va="center", fontsize=14, fontweight="bold",
             family="Liberation Serif", color=INK)
    fig.text(xr_px / W, 1 - y_px / H, rest, ha="left", va="center", fontsize=9, color=INK)

fig.savefig("out.png", dpi=100, facecolor="white")
